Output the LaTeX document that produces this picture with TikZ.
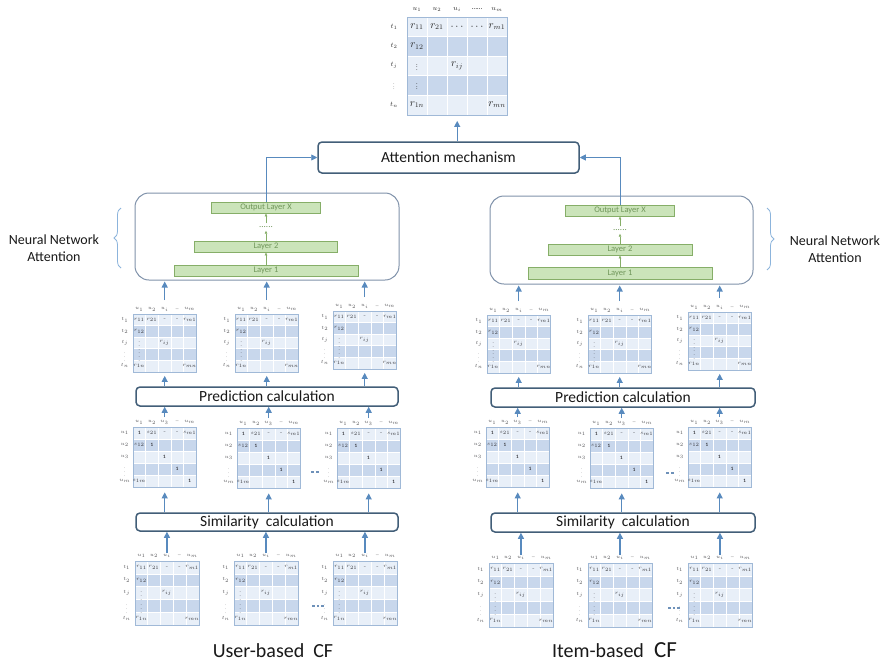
\documentclass[tikz,border=0pt]{standalone}
\usepackage{fontspec}
\setmainfont{Carlito}
\usepackage{tikz}
\usepackage{xcolor}
\usetikzlibrary{arrows.meta,decorations.pathreplacing,positioning}

\definecolor{flowblue}{RGB}{88,138,190}
\definecolor{boxline}{RGB}{66,94,120}
\definecolor{nnline}{RGB}{128,146,170}
\definecolor{layerfill}{RGB}{203,228,186}
\definecolor{layerline}{RGB}{134,174,104}
\definecolor{layertext}{RGB}{112,150,90}
\definecolor{rowlight}{RGB}{232,239,248}
\definecolor{rowdark}{RGB}{200,215,236}
\definecolor{matline}{RGB}{160,185,215}
\definecolor{mattext}{RGB}{55,55,60}
\definecolor{bracecol}{RGB}{140,180,220}
\definecolor{gapdot}{RGB}{110,145,185}

\newcommand{\matgrid}{%
  \pgfkeysgetvalue{/tikz/cellw}{\cellW}%
  \pgfkeysgetvalue{/tikz/cellh}{\cellH}%
  \foreach \rr/\rowcol in {1/rowlight,2/rowdark,3/rowlight,4/rowdark,5/rowlight}
    \fill[\rowcol] (0,{(\rr-1)*\cellH}) rectangle ({5*\cellW},{\rr*\cellH});
  \foreach \kk in {1,...,4} {
    \draw[white, line width=0.6pt] ({\kk*\cellW},0) -- ({\kk*\cellW},{5*\cellH});
    \draw[white, line width=0.6pt] (0,{\kk*\cellH}) -- ({5*\cellW},{\kk*\cellH});
  }
  \node[matbox, minimum width={5*\cellW*1pt}, minimum height={5*\cellH*1pt}] (-box) at (0,0) {};
}
\newcommand{\gridcell}[3]{\node[mat text] (-c#1#2) at ({(#1-0.5)*\cellW},{(#2-0.5)*\cellH}) {#3};}
\newcommand{\gridhead}[2]{\node[mat head] (-h#1) at ({(#1-0.5)*\cellW},{-0.4*\cellH}) {#2};}
\newcommand{\gridrow}[2]{\node[mat head] (-r#1) at ({-0.65*\cellW},{(#1-0.5)*\cellH}) {#2};}
\newcommand{\cellvdots}{\scalebox{\pgfkeysvalueof{/tikz/dotscale}}{$\vdots$}}

\tikzset{
  cellw/.initial=12.6,
  cellh/.initial=11.6,
  dotscale/.initial=1,
  headgap/.initial={---},
  cellgap/.initial={--},
  matbox/.style={draw=matline, line width=0.4pt, inner sep=0pt, anchor=north west},
  mat text/.style={font=\fontsize{5}{6}\selectfont, text=mattext, inner sep=0pt},
  mat head/.style={font=\fontsize{4}{5}\selectfont, text=mattext!85, inner sep=0pt},
  ratmat/.pic={
    \matgrid
    \gridhead{1}{$u_1$} \gridhead{2}{$u_2$} \gridhead{3}{$u_i$}
    \gridhead{4}{\pgfkeysvalueof{/tikz/headgap}} \gridhead{5}{$u_m$}
    \gridrow{1}{$t_1$} \gridrow{2}{$t_2$} \gridrow{3}{$t_j$}
    \gridrow{4}{\cellvdots} \gridrow{5}{$t_n$}
    \gridcell{1}{1}{$r_{11}$} \gridcell{2}{1}{$r_{21}$}
    \gridcell{3}{1}{\pgfkeysvalueof{/tikz/cellgap}}
    \gridcell{4}{1}{\pgfkeysvalueof{/tikz/cellgap}}
    \gridcell{5}{1}{$r_{m1}$}
    \gridcell{1}{2}{$r_{12}$}
    \gridcell{1}{3}{\cellvdots} \gridcell{3}{3}{$r_{ij}$}
    \gridcell{1}{4}{\cellvdots}
    \gridcell{1}{5}{$r_{1n}$} \gridcell{5}{5}{$r_{mn}$}
  },
  simmat/.pic={
    \matgrid
    \gridhead{1}{$u_1$} \gridhead{2}{$u_2$} \gridhead{3}{$u_3$}
    \gridhead{4}{---} \gridhead{5}{$u_m$}
    \gridrow{1}{$u_1$} \gridrow{2}{$u_2$} \gridrow{3}{$u_3$}
    \gridrow{4}{\cellvdots} \gridrow{5}{$u_m$}
    \gridcell{1}{1}{$\mathbf{1}$} \gridcell{2}{1}{$s_{21}$}
    \gridcell{3}{1}{--} \gridcell{4}{1}{--} \gridcell{5}{1}{$s_{m1}$}
    \gridcell{1}{2}{$s_{12}$} \gridcell{2}{2}{$\mathbf{1}$}
    \gridcell{3}{3}{$\mathbf{1}$}
    \gridcell{4}{4}{$\mathbf{1}$}
    \gridcell{1}{5}{$s_{1m}$} \gridcell{5}{5}{$\mathbf{1}$}
  },
  procbox/.style={draw=boxline, line width=1.5pt, rounded corners=4pt, fill=white,
    minimum width=262, minimum height=19, inner sep=0pt, text=black!90,
    font=\fontsize{15.5}{18}\selectfont},
  nnbox/.style={draw=nnline, line width=1pt, rounded corners=14pt, fill=white,
    minimum width=264, minimum height=87, inner sep=0pt},
  layerbox/.style={draw=layerline, line width=0.8pt, fill=layerfill, inner sep=0pt,
    minimum height=11, text=layertext, font=\fontsize{8.5}{10}\selectfont},
  layerdots/.style={text=layertext, inner sep=0pt, minimum height=7,
    font=\fontsize{9}{10}\selectfont},
  flow/.style={draw=flowblue, line width=1.1pt, -{Triangle[width=6pt,length=6pt]}},
  nnflow/.style={draw=layerline, line width=0.6pt, -{Triangle[width=2.5pt,length=3pt]}},
  nnbrace/.style={draw=bracecol, line width=0.8pt, decorate, decoration={brace, amplitude=7pt}},
  sidelabel/.style={align=center, text=black!90, font=\fontsize{14}{17}\selectfont},
  cftext/.style={text=black!90, font=\fontsize{20}{24}\selectfont},
}

\begin{document}
\begin{tikzpicture}[x=1pt, y=-1pt]
\fill[white] (0,0) rectangle (884,662);
\useasboundingbox (0,0) rectangle (884,662);

\pic[cellw=20, cellh=19.5, dotscale=0.6, headgap={\ldots\ldots}, cellgap={$\cdots$},
  mat text/.style={font=\fontsize{10.5}{12}\selectfont, text=black!85, inner sep=0pt},
  mat head/.style={font=\fontsize{7.5}{9}\selectfont, text=black!80, inner sep=0pt}]
  (Top) at (407,17) {ratmat};

\node[procbox, minimum width=261, minimum height=31] (Attn) at (448.5,157.5) {Attention mechanism};

% neural network attention
\node[nnbox] (LNN) at (267,236.5) {};
\node[layerbox, minimum width=109] (LOut) at (266,207.5) {Output Layer X};
\node[layerdots] (Ldots) at (266,227) {......};
\node[layerbox, minimum width=143] (LL2) at (266,246.5) {Layer 2};
\node[layerbox, minimum width=184] (LL1) at (266,270.5) {Layer 1};

\node[nnbox, minimum width=263, minimum height=88] (RNN) at (621.5,240) {};
\node[layerbox, minimum width=109] (ROut) at (620,210.5) {Output Layer X};
\node[layerdots] (Rdots) at (620,230) {......};
\node[layerbox, minimum width=144] (RL2) at (620,249.5) {Layer 2};
\node[layerbox, minimum width=184, minimum height=12] (RL1) at (620,273) {Layer 1};

\node[sidelabel] (LNNlbl) at (54,248) {Neural Network\\Attention};
\node[sidelabel] (RNNlbl) at (835,249) {Neural Network\\Attention};
\draw[nnbrace] (121,268) -- (121,208);
\draw[nnbrace] (767,208) -- (767,270);

% processing boxes
\node[procbox] (LPred) at (267,396.5) {Prediction calculation};
\node[procbox, minimum width=264] (RPred) at (623,397.5) {Prediction calculation};
\node[procbox, minimum height=18] (LSim) at (267,522) {Similarity~~calculation};
\node[procbox, minimum width=264] (RSim) at (623,522.5) {Similarity~~calculation};

% matrices
\foreach \nm/\px/\py in {LR1/133/314, LR2/235/314, LR3/333/311, RR1/487/315, RR2/588/315, RR3/688/312}
  \pic[cellw=12.6, cellh=11.5] (\nm) at (\px,\py) {ratmat};
\foreach \nm/\px/\py in {LS1/133/427, LS2/237/428, LS3/337/428, RS1/486/427, RS2/590/428, RS3/688/427}
  \pic[cellw=12.6, cellh=12] (\nm) at (\px,\py) {simmat};
\foreach \nm/\px/\py in {LB1/135/561, LB2/234/561, LB3/333/561, RB1/489/563, RB2/588/563, RB3/688/563}
  \pic[cellw=12.7, cellh=12.8] (\nm) at (\px,\py) {ratmat};

\foreach \dx in {0,5} {
  \fill[gapdot] (311+\dx,470.5) rectangle ++(2.6,2.6);
  \fill[gapdot] (666+\dx,471.5) rectangle ++(2.6,2.6);
}
\foreach \dx in {0,4.6,9.2} {
  \fill[gapdot] (312+\dx,604.5) rectangle ++(2.6,2.6);
  \fill[gapdot] (668+\dx,606.5) rectangle ++(2.6,2.6);
}

% arrows
\draw[nnflow] (LL1.north) -- (LL2.south);
\draw[nnflow] (LL2.north) -- (Ldots.south);
\draw[nnflow] (Ldots.north) -- (LOut.south);
\draw[nnflow] (RL1.north) -- (RL2.south);
\draw[nnflow] (RL2.north) -- (Rdots.south);
\draw[nnflow] (Rdots.north) -- (ROut.south);

\draw[flow, line width=0.9pt] (LOut.north) |- (Attn.west);
\draw[flow, line width=0.9pt] (ROut.north) |- (Attn.east);
\draw[flow, shorten >=6pt] (Top-box.south |- Attn.north) -- (Top-box.south);

\foreach \s in {L,R} {
  \foreach \i in {1,2,3} {
    \draw[flow, shorten <=14pt, shorten >=1pt] (\s R\i-box.north) -- (\s R\i-box.north |- \s NN.south);
    \draw[flow, shorten >=4pt] (\s R\i-box.south |- \s Pred.north) -- (\s R\i-box.south);
    \draw[flow, shorten <=10pt] (\s S\i-box.north) -- (\s S\i-box.north |- \s Pred.south);
    \draw[flow, shorten >=5pt] (\s S\i-box.south |- \s Sim.north) -- (\s S\i-box.south);
    \draw[flow, shorten <=8pt] (\s B\i-box.north) -- (\s B\i-box.north |- \s Sim.south);
  }
}

\node[cftext] (LCF) at (273,651) {User-based\ \ CF};
\node[cftext] (RCF) at (598,651) {Item-based};
\node[cftext, font=\fontsize{23}{26}\selectfont, anchor=base west] (RCFb) at ([xshift=3pt]RCF.base east) {CF};
\end{tikzpicture}
\end{document}
